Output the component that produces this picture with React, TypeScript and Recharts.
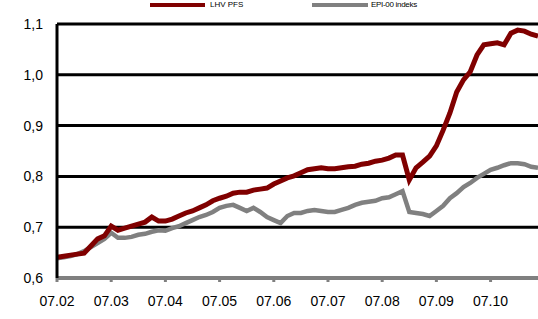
import { LineChart, Line, XAxis, YAxis, CartesianGrid } from "recharts";

// months from 07.02, sampled every 1/8 month
const MONTH_LABELS = ["07.02", "07.03", "07.04", "07.05", "07.06", "07.07", "07.08", "07.09", "07.10"];
const Y_TICKS = [0.6, 0.7, 0.8, 0.9, 1.0, 1.1];

const LHV_PFS = [
  0.641, 0.643, 0.645, 0.647, 0.649, 0.663, 0.677, 0.683, 0.702, 0.694,
  0.698, 0.702, 0.706, 0.71, 0.72, 0.712, 0.712, 0.716, 0.722, 0.728,
  0.732, 0.738, 0.744, 0.752, 0.757, 0.761, 0.767, 0.769, 0.769, 0.773,
  0.775, 0.777, 0.785, 0.791, 0.797, 0.801, 0.807, 0.813, 0.815, 0.817,
  0.815, 0.815, 0.817, 0.819, 0.82, 0.824, 0.826, 0.83, 0.832, 0.836,
  0.842, 0.842, 0.793, 0.817, 0.828, 0.84, 0.86, 0.891, 0.925, 0.966,
  0.99, 1.006, 1.039, 1.059, 1.061, 1.063, 1.059, 1.082, 1.088, 1.086,
  1.08, 1.076,
];

const EPI_00 = [
  0.639, 0.641, 0.643, 0.647, 0.653, 0.661, 0.669, 0.677, 0.689, 0.679,
  0.679, 0.681, 0.685, 0.687, 0.691, 0.694, 0.693, 0.698, 0.702, 0.708,
  0.714, 0.72, 0.724, 0.73, 0.738, 0.742, 0.744, 0.738, 0.732, 0.738,
  0.73, 0.72, 0.714, 0.708, 0.722, 0.728, 0.728, 0.732, 0.734, 0.732,
  0.73, 0.73, 0.734, 0.738, 0.744, 0.748, 0.75, 0.752, 0.757, 0.759,
  0.765, 0.771, 0.73, 0.728, 0.726, 0.722, 0.732, 0.742, 0.757, 0.767,
  0.779, 0.787, 0.797, 0.805, 0.813, 0.817, 0.822, 0.826, 0.826, 0.824,
  0.819, 0.817,
];

const data = LHV_PFS.map((v, i) => ({ t: i / 8, lhv: v, epi: EPI_00[i] }));

const FONT = "'Liberation Sans', Arial, sans-serif";

export default function App() {
  return (
    <div style={{ position: "absolute", left: 0, top: 0, width: 538, height: 319, background: "#fff", fontFamily: FONT }}>
      <div style={{ position: "absolute", top: 0, left: 0, width: 538, height: 12, fontSize: 8, color: "#000" }}>
        <span style={{ position: "absolute", left: 150, top: 3, width: 55, height: 4, background: "#800000" }} />
        <span style={{ position: "absolute", left: 210, top: 0 }}>LHV PFS</span>
        <span style={{ position: "absolute", left: 312, top: 3, width: 56, height: 4, background: "#808080" }} />
        <span style={{ position: "absolute", left: 371, top: 0, letterSpacing: -0.3 }}>EPI-00 indeks</span>
      </div>
      <LineChart width={538} height={319} data={data} margin={{ top: 24, right: 0, left: 0, bottom: 0 }}>
        <CartesianGrid vertical={false} stroke="#000" strokeWidth={3} />
        <XAxis
          dataKey="t"
          type="number"
          height={41}
          domain={[0, 71 / 8]}
          ticks={[0, 1, 2, 3, 4, 5, 6, 7, 8]}
          tickFormatter={(v) => MONTH_LABELS[v]}
          stroke="#808080"
          strokeWidth={3}
          tickSize={4}
          tickMargin={14}
          tick={{ fontSize: 14, fill: "#000", fontFamily: FONT }}
          allowDataOverflow
        />
        <YAxis
          width={57}
          domain={[0.6, 1.1]}
          ticks={Y_TICKS}
          tickFormatter={(v) => v.toFixed(1).replace(".", ",")}
          stroke="#000"
          strokeWidth={3}
          tickLine={false}
          tickSize={0}
          tickMargin={14}
          tick={{ fontSize: 14, fill: "#000", fontFamily: FONT }}
        />
        <Line dataKey="epi" stroke="#808080" strokeWidth={4.5} dot={false} type="linear" isAnimationActive={false} />
        <Line dataKey="lhv" stroke="#800000" strokeWidth={5} dot={false} type="linear" isAnimationActive={false} />
      </LineChart>
    </div>
  );
}
